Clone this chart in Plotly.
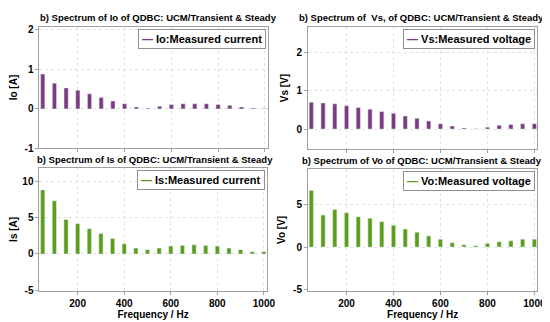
import plotly.graph_objects as go

freq = [50, 100, 150, 200, 250, 300, 350, 400, 450, 500, 550, 600, 650, 700, 750, 800, 850, 900, 950, 1000]
io_vals = [0.88, 0.65, 0.53, 0.47, 0.38, 0.29, 0.20, 0.13, 0.05, 0.02, 0.07, 0.11, 0.13, 0.13, 0.13, 0.11, 0.09, 0.05, 0.02, 0.01]
vs_vals = [0.70, 0.68, 0.66, 0.61, 0.56, 0.52, 0.46, 0.41, 0.34, 0.28, 0.21, 0.14, 0.08, 0.03, 0.01, 0.05, 0.10, 0.12, 0.14, 0.14]
is_vals = [8.86, 7.36, 4.77, 4.18, 3.50, 2.82, 2.14, 1.40, 0.82, 0.60, 0.82, 1.09, 1.18, 1.27, 1.18, 1.09, 0.82, 0.60, 0.32, 0.32]
vo_vals = [6.6, 3.73, 4.38, 4.0, 3.54, 3.35, 2.96, 2.54, 2.10, 1.73, 1.30, 0.92, 0.50, 0.27, 0.15, 0.42, 0.62, 0.73, 0.92, 0.92]

titles = ["b) Spectrum of Io of QDBC: UCM/Transient & Steady",
          "b) Spectrum of  Vs, of QDBC: UCM/Transient & Steady",
          "b) Spectrum of Is of QDBC: UCM/Transient & Steady",
          "b) Spectrum of Vo of QDBC: UCM/Transient & Steady"]
ylabels = ["Io [A]", "Vs [V]", "Is [A]", "Vo [V]"]
legends = ["Io:Measured current", "Vs:Measured voltage", "Is:Measured current", "Vo:Measured voltage"]
yticks = [[-1, 0, 1, 2], [0, 1, 2], [-5, 0, 5, 10], [-5, 0, 5]]
yranges = [[-1, 2.08], [-0.53, 2.67], [-5.1, 11.9], [-5.1, 9.1]]
xticks = [200, 400, 600, 800, 1000]

PURPLE = "#7b3b7e"
GREEN = "#5c9d1c"
colors = [PURPLE, PURPLE, GREEN, GREEN]
series = [io_vals, vs_vals, is_vals, vo_vals]

W, H = 550, 322
# pixel boxes: (left, right, top, bottom)
boxes = [(32, 264, 17, 142), (305, 538, 17, 143), (32, 263, 162, 288), (305, 538, 163, 288)]
title_cx = [153, 420, 149, 421]

FONT = "Liberation Sans"
fig = go.Figure()
ann = []
for i in range(4):
    l, r, t, b = boxes[i]
    xa = "xaxis" if i == 0 else f"xaxis{i+1}"
    ya = "yaxis" if i == 0 else f"yaxis{i+1}"
    xref = "x" if i == 0 else f"x{i+1}"
    yref = "y" if i == 0 else f"y{i+1}"
    fig.add_trace(go.Bar(x=freq, y=series[i], marker_color=colors[i], width=18,
                         xaxis=xref, yaxis=yref, showlegend=False))
    fig.layout[xa] = dict(domain=[l / W, r / W], anchor=yref, range=[36, 1012],
                          tickvals=xticks, ticktext=[f"<b>{v}</b>" for v in xticks],
                          showticklabels=(i >= 2),
                          showgrid=True, gridcolor="#e3e3e3", griddash="dot",
                          showline=True, linecolor="#a0a0a0", linewidth=1, mirror=True,
                          zeroline=False, ticks="outside", ticklen=3, tickcolor="#a0a0a0",
                          tickfont=dict(family=FONT, size=10, color="black"),
                          title=dict(text="<b>Frequency / Hz</b>" if i >= 2 else "",
                                     font=dict(family=FONT, size=10, color="black"),
                                     standoff=3))
    fig.layout[ya] = dict(domain=[1 - b / H, 1 - t / H], anchor=xref, range=yranges[i],
                          tickvals=yticks[i], ticktext=[f"<b>{v}</b>" for v in yticks[i]],
                          showgrid=True, gridcolor="#e3e3e3", griddash="dot",
                          showline=True, linecolor="#a0a0a0", linewidth=1, mirror=True,
                          zeroline=False, ticks="outside", ticklen=3, tickcolor="#a0a0a0",
                          tickfont=dict(family=FONT, size=10, color="black"),
                          title=dict(text=f"<b>{ylabels[i]}</b>",
                                     font=dict(family=FONT, size=10, color="black"),
                                     standoff=5))
    # title
    ann.append(dict(text=f"<b>{titles[i]}</b>", xref="paper", yref="paper",
                    x=title_cx[i] / W, y=1 - (t - 9) / H, xanchor="center", yanchor="middle",
                    showarrow=False, font=dict(family=FONT, size=9.5, color="black")))
    # legend box
    ann.append(dict(text=f"<b><span style='color:{colors[i]}'>\u2014</span> {legends[i]}</b>",
                    xref="paper", yref="paper", x=(r - 2) / W, y=1 - (t + 2) / H,
                    xanchor="right", yanchor="top", showarrow=False,
                    bordercolor="#909090", borderwidth=1, borderpad=3, bgcolor="white",
                    font=dict(family=FONT, size=11, color="black")))

fig.update_layout(width=W, height=H, margin=dict(l=0, r=0, t=0, b=0),
                  paper_bgcolor="white", plot_bgcolor="white", bargap=0.66,
                  annotations=ann)
fig.write_html("out.html")
